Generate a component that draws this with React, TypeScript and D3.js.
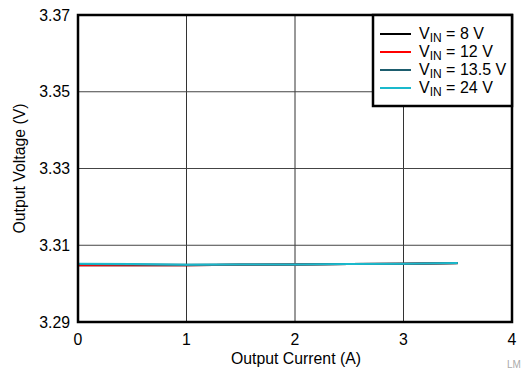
import React from "react";
import * as d3 from "d3";

const currents = [0, 0.5, 1, 1.5, 2, 2.5, 3, 3.5];
const vin8 = [3.3048, 3.3048, 3.3048, 3.3049, 3.305, 3.3051, 3.3052, 3.3053];
const vin12 = [3.3048, 3.3048, 3.3048, 3.3049, 3.305, 3.3051, 3.3052, 3.3054];
const vin135 = [3.3051, 3.305, 3.3049, 3.305, 3.305, 3.3051, 3.3052, 3.3054];
const vin24 = [3.3052, 3.3051, 3.3049, 3.305, 3.305, 3.3051, 3.3052, 3.3054];
const seriesLabels = ["8 V", "12 V", "13.5 V", "24 V"];
const seriesColors = ["#000000", "#ff0000", "#1d5d6e", "#1ab9cc"];
const xTicks = [0, 1, 2, 3, 4];
const yTicks = [3.29, 3.31, 3.33, 3.35, 3.37];

export default function App() {
  const W = 527, H = 370;
  const L = 78, R = 512, T = 15, B = 322;
  const x = d3.scaleLinear().domain([0, 4]).range([L, R]);
  const y = d3.scaleLinear().domain([3.29, 3.37]).range([B, T]);
  const series = [vin8, vin12, vin135, vin24];
  const line = d3.line<number>().x((_, i) => x(currents[i])).y((d) => y(d));
  const font = "Arial, 'Liberation Sans', Helvetica, sans-serif";
  const fs = 15.8;
  return (
    <svg width={W} height={H} style={{ position: "absolute", left: 0, top: 0 }} fontFamily={font}>
      <rect x={0} y={0} width={W} height={H} fill="#fff" />
      {xTicks.slice(1, -1).map((t) => (
        <line key={"gx" + t} x1={x(t)} x2={x(t)} y1={T} y2={B} stroke="#333" strokeWidth={1} />
      ))}
      {yTicks.slice(1, -1).map((t) => (
        <line key={"gy" + t} x1={L} x2={R} y1={y(t)} y2={y(t)} stroke="#444" strokeWidth={1} />
      ))}
      {series.map((s, i) => (
        <path key={i} d={line(s) || ""} fill="none" stroke={seriesColors[i]} strokeWidth={2} />
      ))}
      <rect x={L} y={T} width={R - L} height={B - T} fill="none" stroke="#000" strokeWidth={2.5} />
      {yTicks.map((t) => (
        <text key={"yl" + t} x={70} y={y(t) + 5.5} textAnchor="end" fontSize={fs} fill="#000">
          {t.toFixed(2)}
        </text>
      ))}
      {xTicks.map((t) => (
        <text key={"xl" + t} x={x(t)} y={345} textAnchor="middle" fontSize={fs} fill="#000">
          {t}
        </text>
      ))}
      <text x={(L + R) / 2 + 1} y={364} textAnchor="middle" fontSize={fs} fill="#000">
        Output Current (A)
      </text>
      <text transform={`translate(25, ${(T + B) / 2}) rotate(-90)`} textAnchor="middle" fontSize={fs} fill="#000">
        Output Voltage (V)
      </text>
      <g>
        <rect x={373} y={15} width={139} height={91} fill="#fff" stroke="#000" strokeWidth={2.5} />
        {seriesLabels.map((lab, i) => {
          const ly = 34 + i * 18;
          return (
            <g key={lab}>
              <line x1={380} x2={411} y1={ly} y2={ly} stroke={seriesColors[i]} strokeWidth={2} />
              <text x={419} y={ly + 4.5} fontSize={16} fill="#000">
                V<tspan fontSize={12} dy={3}>IN</tspan>
                <tspan dy={-3}>{" = " + lab}</tspan>
              </text>
            </g>
          );
        })}
      </g>
      <text x={507} y={368} fontSize={10} fill="#aaa">LM</text>
    </svg>
  );
}
